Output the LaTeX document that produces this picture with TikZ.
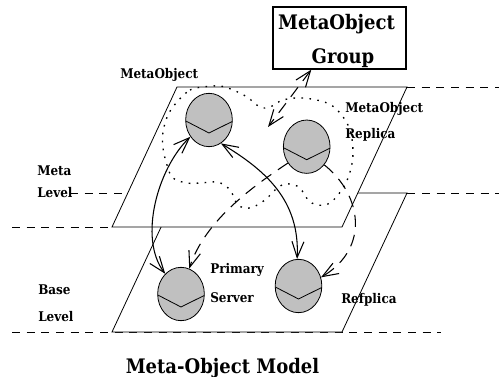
\documentclass[tikz,border=0pt]{standalone}
\usepackage{fontspec}
\usetikzlibrary{arrows.meta,shapes.geometric,calc}
\newfontfamily\lblfont{DejaVu Serif}[FakeStretch=0.9]
\definecolor{objgray}{HTML}{C0C0C0}
\tikzset{
  barb/.tip={Straight Barb[length=12pt,width=9pt]},
  levelline/.style={line width=0.5pt, dash pattern=on 6pt off 5pt},
  plane/.style={draw, fill=white, line width=0.6pt},
  blob/.style={line width=1pt, dash pattern=on 1.2pt off 4.8pt},
  obj/.style={ellipse, draw, fill=objgray, line width=0.6pt, inner sep=0pt,
              minimum width=35pt, minimum height=40pt},
  vline/.style={line width=0.6pt},
  link/.style={line width=0.8pt, barb-barb},
  dlink/.style={line width=0.8pt, dash pattern=on 9pt off 6pt},
  lbl/.style={font=\lblfont\bfseries\fontsize{10}{12}\selectfont, inner sep=0pt},
  biglbl/.style={font=\lblfont\bfseries\fontsize{15}{18}\selectfont, inner sep=0pt},
  groupbox/.style={draw, line width=1pt, inner sep=0pt,
                   minimum width=99.75pt, minimum height=46.5pt}
}
\begin{document}
\begin{tikzpicture}[x=0.75pt,y=-0.75pt]
\useasboundingbox (0,0) rectangle (499,377);

% level boundary lines
\draw[levelline] (70,193) -- (499,193);
\draw[levelline] (407,87) -- (499,87);
\draw[levelline] (12,227) -- (112,227);
\draw[levelline] (12,332) -- (441,332);

% base level plane, then meta level plane in front of it
\draw[plane] (177,193) -- (407,193) -- (342,332) -- (112,332) -- cycle;
\draw[plane] (177,87) -- (407,87) -- (342,227) -- (112,227) -- cycle;

% the metaobject group boundary
\draw[blob] plot[smooth cycle, tension=0.6] coordinates {
  (177,102) (190,90) (203,87) (220,86) (233,90) (247,97) (260,107)
  (270,107) (283,100) (303,98) (327,103) (340,113) (350,130) (353,153)
  (350,172) (343,188) (330,203) (317,205) (308,200) (303,192) (297,186)
  (285,184) (275,190) (265,200) (250,208) (238,205) (232,193) (227,187)
  (217,182) (200,183) (187,183) (173,178) (167,165) (163,148) (163,132)
  (168,115)};

% objects
\node[obj] (mo) at (209,120) {};
\node[obj] (mr) at (306.7,146.7) {};
\node[obj] (ps) at (181,294) {};
\node[obj] (rp) at (298.5,286) {};
\foreach \n in {mo,mr,ps,rp}
  \draw[vline] ($(\n.center)+(-23.2,1)$) -- ($(\n.center)+(0,13)$)
               -- ($(\n.center)+(23.2,1.5)$);

% metaobject group box
\node[groupbox] (mog) at (339.5,38) {};
\node[biglbl] at (336.5,24) {MetaObject};
\node[biglbl] at (343,58) {Group};

% connections
\draw[link] (mo.222) .. controls (158,168) and (138,238) .. (ps.128);
\draw[link] (mo.297) .. controls (265,170) and (300,200) .. (rp.93);
\draw[dlink,-barb] (mr.221) .. controls (255,185) and (205,220) .. (ps.72);
\draw[dlink,-barb] (mr.314) .. controls (362,195) and (370,248) .. (rp.21);
\coordinate (grpend) at (268,127);
\draw[dlink,barb-barb] ($(mog.south west)!0.29!(mog.south east)$) -- (grpend);

% labels
\node[lbl,anchor=west] at (120,75) {MetaObject};
\node[lbl,anchor=west] at (345,109) {MetaObject};
\node[lbl,anchor=west] at (345,135) {Replica};
\node[lbl,anchor=west] at (37,171) {Meta};
\node[lbl,anchor=west] at (37,193) {Level};
\node[lbl,anchor=west] at (38,290) {Base};
\node[lbl,anchor=west] at (38,317) {Level};
\node[lbl,anchor=west] at (210,270) {Primary};
\node[lbl,anchor=west] at (210,298) {Server};
\node[lbl,anchor=west] at (341,300) {Refplica};
\node[biglbl] at (222.5,368) {Meta-Object Model};
\end{tikzpicture}
\end{document}
